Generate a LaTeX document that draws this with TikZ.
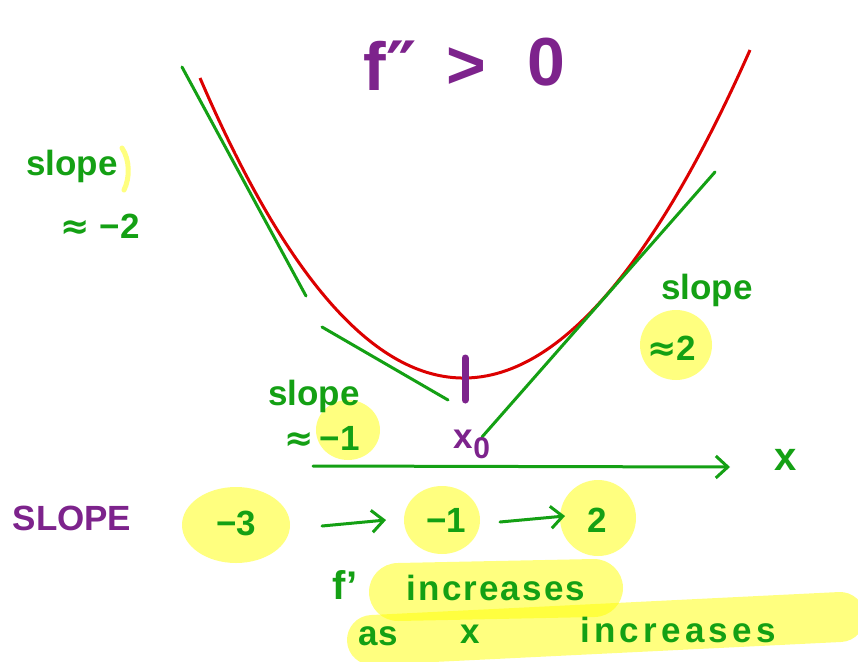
\documentclass[tikz,border=0pt]{standalone}
\usepackage{fontspec}
\setmainfont{Liberation Sans}
\newfontfamily\symf{DejaVu Sans}
\usetikzlibrary{arrows.meta}
\definecolor{grn}{RGB}{20,160,20}
\definecolor{prp}{RGB}{125,35,140}
\definecolor{rd}{RGB}{220,0,0}
\definecolor{hl}{RGB}{255,255,0}
\begin{document}
\begin{tikzpicture}[x=1pt,y=-1pt,
  gtxt/.style={text=grn, inner sep=0pt, font=\bfseries\fontsize{35}{40}\selectfont},
  ptxt/.style={text=prp, inner sep=0pt, font=\bfseries\fontsize{35}{40}\selectfont},
  ttl/.style={text=prp, inner sep=0pt, font=\bfseries\fontsize{68}{72}\selectfont},
  gline/.style={draw=grn, line width=3pt, line cap=round},
  hlblob/.style={fill=hl, fill opacity=0.5, draw=none},
  hlbar/.style={draw=hl, draw opacity=0.5, line cap=round},
  tip/.style={-{Straight Barb[length=12pt,width=22pt,line width=3pt]}}
]
\useasboundingbox (0,0) rectangle (858,661);
\fill[white] (0,0) rectangle (858,661);

% highlights
\fill[hlblob] (676,345) ellipse [x radius=36pt, y radius=35pt];
\fill[hlblob] (348,430) ellipse [x radius=32pt, y radius=30pt];
\fill[hlblob] (236,525) ellipse [x radius=54pt, y radius=38pt];
\fill[hlblob] (442,520) ellipse [x radius=38pt, y radius=34pt];
\fill[hlblob] (598,518) ellipse [x radius=38pt, y radius=38pt];
\coordinate (b1a) at (398,592);
\coordinate (b1b) at (594,588);
\draw[hlbar, line width=58pt] (b1a) -- (b1b);
\coordinate (b2a) at (372,640);
\coordinate (b2b) at (840,617);
\draw[hlbar, line width=50pt] (b2a) -- (b2b);
\coordinate (arcA) at (122,148);
\draw[draw=hl, draw opacity=0.5, line width=5pt, line cap=round] (arcA) .. controls (130,160) and (130,178) .. (124,190);

% title
\node[ttl] (tf) at (390,66) {f{\symf\bfseries ″}};
\node[ttl] (tg) at (466,68) {>};
\node[ttl] (t0) at (546,62) {0};

% curve
\coordinate (cL) at (200,78);
\coordinate (cR) at (750,50);
\draw[draw=rd, line width=3pt] (cL) .. controls (376,487) and (560,478) .. (cR);

% tangents
\coordinate (t1a) at (182,67);  \coordinate (t1b) at (306,296);
\coordinate (t2a) at (322,327); \coordinate (t2b) at (448,400);
\coordinate (t3a) at (482,437); \coordinate (t3b) at (715,172);
\draw[gline] (t1a) -- (t1b);
\draw[gline] (t2a) -- (t2b);
\draw[gline] (t3a) -- (t3b);

% axis
\coordinate (ax1) at (313,466);
\coordinate (ax2) at (730,467);
\draw[gline, tip] (ax1) -- (ax2);
\node[gtxt, font=\bfseries\fontsize{40}{44}\selectfont] (xl) at (786,460) {x};

% x0 tick
\coordinate (tk1) at (465,358);
\coordinate (tk2) at (465,400);
\draw[draw=prp, line width=7pt, line cap=round] (tk1) -- (tk2);
\node[ptxt] (x0) at (472,444) {x\raisebox{-10pt}{\fontsize{30}{32}\selectfont 0}};

% slope labels
\node[gtxt] (s1) at (72,166) {slope};
\node[gtxt] (s1v) at (100,226) {{\symf ≈}\;−2};
\node[gtxt] (s2) at (707,290) {slope};
\node[gtxt] (s2v) at (672,348) {{\symf ≈}2};
\node[gtxt] (s3) at (314,396) {slope};
\node[gtxt] (s3v) at (322,438) {{\symf ≈}\,−1};

% bottom row
\node[ptxt] (SL) at (72,518) {SLOPE};
\node[gtxt] (m3) at (236,523) {−3};
\node[gtxt] (m1) at (446,520) {−1};
\node[gtxt] (p2) at (597,520) {2};
\coordinate (a1s) at (322,526);
\coordinate (a1e) at (386,520);
\draw[gline, tip] (a1s) -- (a1e);
\coordinate (a2s) at (500,522);
\coordinate (a2e) at (565,516);
\draw[gline, tip] (a2s) -- (a2e);

% bottom text
\node[gtxt, font=\bfseries\fontsize{40}{44}\selectfont] (fp) at (345,585) {f'};
\node[gtxt] (inc1) at (496,588) {\addfontfeature{LetterSpace=6}increases};
\node[gtxt] (as) at (378,636) {as};
\node[gtxt] (xx) at (470,634) {x};
\node[gtxt] (inc2) at (678,630) {\addfontfeature{LetterSpace=12}increases};
\end{tikzpicture}
\end{document}
